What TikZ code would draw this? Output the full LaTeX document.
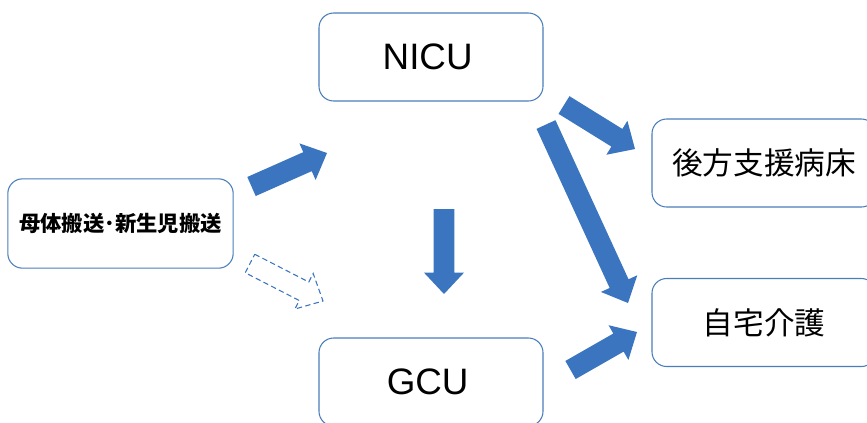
\documentclass[tikz,border=0pt]{standalone}
\usepackage{fontspec}
\setmainfont{Liberation Sans}
\newfontfamily\jpfont{Noto Sans CJK JP}
\usetikzlibrary{calc}

\definecolor{boxblue}{RGB}{74,126,187}
\definecolor{arrowblue}{RGB}{59,117,192}

% block arrow dimensions: shaft half width, head half width, head length
\newcommand\arrshaft{7.8pt}
\newcommand\arrhead{15pt}
\newcommand\arrlen{16pt}

% \blockarrow{style}{tail}{tip}: a wide block arrow from tail to tip
\newcommand\blockarrow[3]{%
  \path[#1] ($(#2)!\arrshaft!90:(#3)$)
    -- ($(#3)!\arrlen!(#2)!\arrshaft!90:(#3)$)
    -- ($(#3)!\arrlen!(#2)!\arrhead!90:(#3)$)
    -- (#3)
    -- ($(#3)!\arrlen!(#2)!\arrhead!-90:(#3)$)
    -- ($(#3)!\arrlen!(#2)!\arrshaft!-90:(#3)$)
    -- ($(#2)!\arrshaft!-90:(#3)$) -- cycle;}

\tikzset{
  box/.style={draw=boxblue, line width=0.8pt, rounded corners=11pt,
    minimum width=168pt, minimum height=66pt, inner sep=0pt, fill=white},
  latin/.style={font=\fontsize{27.6}{30}\selectfont},
  jp/.style={font=\jpfont\fontsize{23}{26}\selectfont},
  jpsmall/.style={font=\jpfont\bfseries\fontsize{16}{18}\selectfont},
  solidarrow/.style={fill=arrowblue},
  dasharrow/.style={draw=arrowblue, line width=0.8pt, dash pattern=on 4pt off 2.5pt, line join=miter},
}

\begin{document}
\begin{tikzpicture}[x=0.75pt, y=-0.75pt]
\useasboundingbox (0,0) rectangle (867,422);
\clip (0,0) rectangle (867,422);

% boxes
\node[box, latin] (nicu) at (431,57) {NICU\hspace*{5pt}};
\node[box, latin] (gcu) at (431,382) {GCU\hspace*{5pt}};
\node[box, jpsmall, minimum width=169pt, minimum height=67pt] (src) at (120.5,223.5) {母体搬送･新生児搬送};
\node[box, jp] (back) at (764,163) {後方支援病床};
\node[box, jp] (home) at (764,322.5) {自宅介護};

% arrow ends
\coordinate (srcA) at (251.5,186.5);
\coordinate (nicuIn) at (327,153);
\coordinate (srcB) at (250,263.5);
\coordinate (gcuIn) at (323,301);
\coordinate (nicuDown) at (444,209);
\coordinate (gcuTop) at (444,294);
\coordinate (nicuR) at (564,105);
\coordinate (backIn) at (635,149);
\coordinate (nicuL) at (546,124.5);
\coordinate (homeInA) at (628,303);
\coordinate (gcuR) at (570.5,370);
\coordinate (homeInB) at (637,332);

% connectors
\blockarrow{solidarrow}{srcA}{nicuIn}
\blockarrow{dasharrow}{srcB}{gcuIn}
\blockarrow{solidarrow}{nicuDown}{gcuTop}
\blockarrow{solidarrow}{nicuR}{backIn}
\blockarrow{solidarrow}{nicuL}{homeInA}
\blockarrow{solidarrow}{gcuR}{homeInB}
\end{tikzpicture}
\end{document}
